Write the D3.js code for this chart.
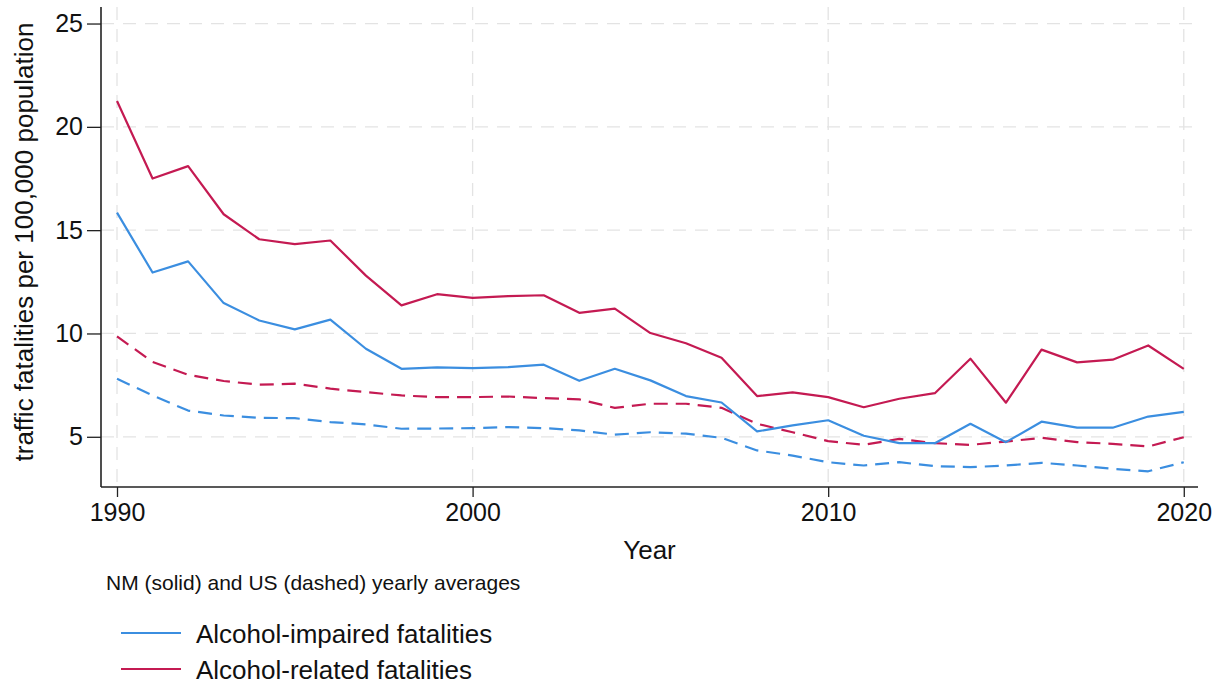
<!DOCTYPE html>
<html>
<head>
<meta charset="utf-8">
<script src="https://cdn.jsdelivr.net/npm/d3@7"></script>
<style>
  html, body { margin: 0; padding: 0; background: #fff; }
  svg { display: block; font-family: "Liberation Sans", Arial, Helvetica, sans-serif; }
</style>
</head>
<body>
<svg id="chart" width="1222" height="687"></svg>
<script>
const years = d3.range(1990, 2021);
const nmRelated = [21.25, 17.5, 18.1, 15.77, 14.56, 14.32, 14.5, 12.8, 11.36, 11.9, 11.72, 11.81, 11.85, 11.0, 11.2, 10.02, 9.53, 8.83, 6.97, 7.15, 6.92, 6.43, 6.84, 7.11, 8.78, 6.65, 9.22, 8.6, 8.73, 9.42, 8.29];
const nmImpaired = [15.85, 12.95, 13.49, 11.47, 10.63, 10.2, 10.67, 9.26, 8.29, 8.36, 8.32, 8.37, 8.49, 7.71, 8.29, 7.73, 6.97, 6.66, 5.26, 5.55, 5.8, 5.05, 4.69, 4.69, 5.63, 4.74, 5.73, 5.44, 5.44, 5.98, 6.21];
const usRelated = [9.86, 8.62, 8.0, 7.7, 7.52, 7.57, 7.33, 7.16, 7.0, 6.92, 6.92, 6.95, 6.87, 6.81, 6.4, 6.6, 6.6, 6.4, 5.63, 5.22, 4.79, 4.61, 4.9, 4.69, 4.61, 4.77, 4.95, 4.74, 4.66, 4.53, 4.98];
const usImpaired = [7.81, 7.0, 6.27, 6.03, 5.92, 5.9, 5.71, 5.6, 5.39, 5.4, 5.42, 5.47, 5.42, 5.31, 5.1, 5.22, 5.15, 4.95, 4.34, 4.09, 3.77, 3.61, 3.77, 3.58, 3.53, 3.61, 3.74, 3.61, 3.45, 3.33, 3.77];
const xTicks = [1990, 2000, 2010, 2020];
const yTicks = [5, 10, 15, 20, 25];
const legendLabels = ["Alcohol-impaired fatalities", "Alcohol-related fatalities"];
const subtitle = "NM (solid) and US (dashed) yearly averages";
const xTitle = "Year";
const yTitle = "traffic fatalities per 100,000 population";

const blue = "#3b8ee0";
const red = "#c41a52";

const svg = d3.select("#chart");
const pLeft = 101, pRight = 1198, pTop = 7, pBottom = 487;

const x = d3.scaleLinear().domain([1989.55, 2020.4]).range([pLeft, pRight]);
const y = d3.scaleLinear().domain([2.57, 25.8]).range([pBottom, pTop]);

// grid
const grid = svg.append("g").attr("stroke", "#e3e3e3").attr("stroke-width", 1.3).attr("stroke-dasharray", "13,9");
grid.selectAll("line.h").data(yTicks).join("line").attr("class", "h")
  .attr("x1", pLeft).attr("x2", pRight - 4)
  .attr("y1", d => y(d)).attr("y2", d => y(d));
grid.selectAll("line.v").data(xTicks).join("line").attr("class", "v")
  .attr("x1", d => x(d)).attr("x2", d => x(d))
  .attr("y1", pTop).attr("y2", pBottom);

// axes
const xAxis = svg.append("g").attr("transform", `translate(0,${pBottom})`)
  .call(d3.axisBottom(x).tickValues(xTicks).tickFormat(d3.format("d")).tickSize(10).tickPadding(6).tickSizeOuter(0));
const yAxis = svg.append("g").attr("transform", `translate(${pLeft},0)`)
  .call(d3.axisLeft(y).tickValues(yTicks).tickSize(14).tickPadding(4).tickSizeOuter(0));
[xAxis, yAxis].forEach(a => {
  a.select(".domain").attr("stroke", "#222").attr("stroke-width", 1.6);
  a.selectAll(".tick line").attr("stroke", "#222").attr("stroke-width", 1.3);
  a.selectAll(".tick text").attr("fill", "#111").attr("font-size", 25).attr("font-family", "Liberation Sans, Arial, sans-serif");
});
yAxis.select(".domain").attr("d", `M0,${pTop}V${pBottom}`);
xAxis.select(".domain").attr("d", `M${pLeft},0H${pRight}`);

// lines
const line = d3.line().x((d, i) => x(years[i])).y(d => y(d));
const series = [
  {v: usImpaired, c: blue, dash: "14,8"},
  {v: usRelated, c: red, dash: "14,8"},
  {v: nmImpaired, c: blue, dash: null},
  {v: nmRelated, c: red, dash: null}
];
svg.append("g").selectAll("path").data(series).join("path")
  .attr("d", d => line(d.v))
  .attr("fill", "none")
  .attr("stroke", d => d.c)
  .attr("stroke-width", 2.2)
  .attr("stroke-linejoin", "round")
  .attr("stroke-dasharray", d => d.dash);

// titles
svg.append("text").attr("x", (pLeft + pRight) / 2).attr("y", 559)
  .attr("text-anchor", "middle").attr("font-size", 26).attr("fill", "#111").text(xTitle);
svg.append("text").attr("transform", `translate(33,${(pTop + pBottom) / 2 - 5}) rotate(-90)`)
  .attr("text-anchor", "middle").attr("font-size", 26).attr("fill", "#111").text(yTitle);

svg.append("text").attr("x", 106).attr("y", 590)
  .attr("font-size", 21).attr("fill", "#111").text(subtitle);

// legend
const legColors = [blue, red];
const leg = svg.append("g");
legendLabels.forEach((lab, i) => {
  const ly = 633 + i * 36;
  leg.append("line").attr("x1", 121).attr("x2", 181).attr("y1", ly).attr("y2", ly)
    .attr("stroke", legColors[i]).attr("stroke-width", 2.2);
  leg.append("text").attr("x", 196).attr("y", ly + 10).attr("font-size", 26).attr("fill", "#111").text(lab);
});
</script>
</body>
</html>
